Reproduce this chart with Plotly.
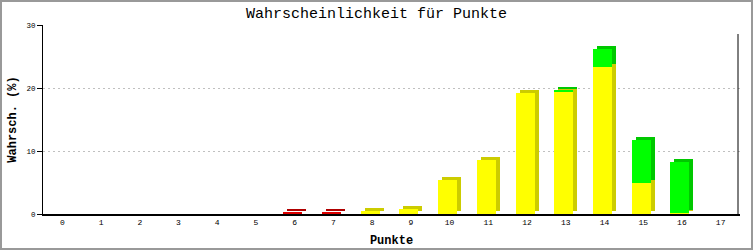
import plotly.graph_objects as go

# ---- data ----
punkte = list(range(18))
tick_labels = [str(p) for p in punkte]
red_vals = [0, 0, 0, 0, 0, 0, 0.2, 0.2, 0, 0, 0, 0, 0, 0, 0, 0, 0, 0]
yellow_vals = [0, 0, 0, 0, 0, 0, 0, 0, 0.45, 0.8, 5.4, 8.6, 19.2, 19.4, 23.3, 4.9, 0.2, 0]
green_vals = [0, 0, 0, 0, 0, 0, 0, 0, 0, 0, 0, 0, 0, 0.3, 2.9, 6.8, 8.05, 0]

# ---- layout constants ----
W, H = 753, 250
ML, MR, MT, MB = 43, 13, 25, 36
PW, PH = W - ML - MR, H - MT - MB
XMIN, XMAX = -0.5, 17.5
YMAX = 30
px_x = PW / (XMAX - XMIN)
px_y = PH / YMAX
bar_w = 19 / px_x
front_off = -11.5 / px_x
dx = 4 / px_x
dy = 3 / px_y

stack_base_red = [0] * len(punkte)
stack_base_yellow = [r for r in red_vals]
stack_base_green = [r + y for r, y in zip(red_vals, yellow_vals)]

series = [
    (red_vals, stack_base_red, "#dd0000", "#b00000"),
    (yellow_vals, stack_base_yellow, "#ffff00", "#cccc00"),
    (green_vals, stack_base_green, "#00ff00", "#00c800"),
]

fig = go.Figure()
# depth (shadow) faces first
for vals, base, front, dark in series:
    fig.add_trace(go.Bar(
        x=punkte, y=vals, base=[b + dy for b in base],
        width=bar_w, offset=front_off + dx,
        marker=dict(color=dark, line=dict(width=0)),
        hoverinfo="skip", showlegend=False,
    ))
# front faces
for vals, base, front, dark in series:
    fig.add_trace(go.Bar(
        x=punkte, y=vals, base=base,
        width=bar_w, offset=front_off,
        marker=dict(color=front, line=dict(width=0)),
        hoverinfo="skip", showlegend=False,
    ))

mono = "Liberation Mono"
fig.update_layout(
    width=W, height=H,
    margin=dict(l=ML, r=MR, t=MT, b=MB, autoexpand=False),
    barmode="overlay",
    bargap=0,
    paper_bgcolor="white",
    plot_bgcolor="white",
    font=dict(family=mono, color="black"),
    title=dict(text="Wahrscheinlichkeit für Punkte", x=0.5, xanchor="center",
               y=1 - 13 / H, yanchor="middle",
               font=dict(family=mono, size=15, color="black")),
    xaxis=dict(
        range=[XMIN, XMAX], automargin=False,
        tickmode="array", tickvals=punkte, ticktext=tick_labels,
        tickfont=dict(family=mono, size=8, color="black"),
        ticks="", showgrid=False, zeroline=False,
        showline=True, linecolor="black", linewidth=1.5,
        title=dict(text="<b>Punkte</b>", font=dict(family=mono, size=12), standoff=9),
    ),
    yaxis=dict(
        range=[0, YMAX], automargin=False,
        tickvals=[0, 10, 20, 30],
        tickfont=dict(family=mono, size=7.5, color="black"),
        ticks="outside", ticklen=5, tickcolor="black",
        showgrid=True, gridcolor="#c0c0c0", griddash="2px,3px", gridwidth=1,
        zeroline=False,
        showline=True, linecolor="black", linewidth=1,
        title=dict(text="<b>Wahrsch. (%)</b>", font=dict(family=mono, size=12), standoff=7),
    ),
    shapes=[
        # right frame line of plot area
        dict(type="line", xref="paper", yref="paper",
             x0=(738 - ML) / PW, x1=(738 - ML) / PW,
             y0=0, y1=(H - MB - 34) / PH,
             line=dict(color="black", width=1)),
        # outer gray border
        dict(type="rect", xref="paper", yref="paper",
             x0=-(ML - 1) / PW, x1=1 + (MR - 1) / PW,
             y0=-(MB - 1) / PH, y1=1 + (MT - 1) / PH,
             line=dict(color="#999999", width=2)),
    ],
)

fig.write_html("out.html")
